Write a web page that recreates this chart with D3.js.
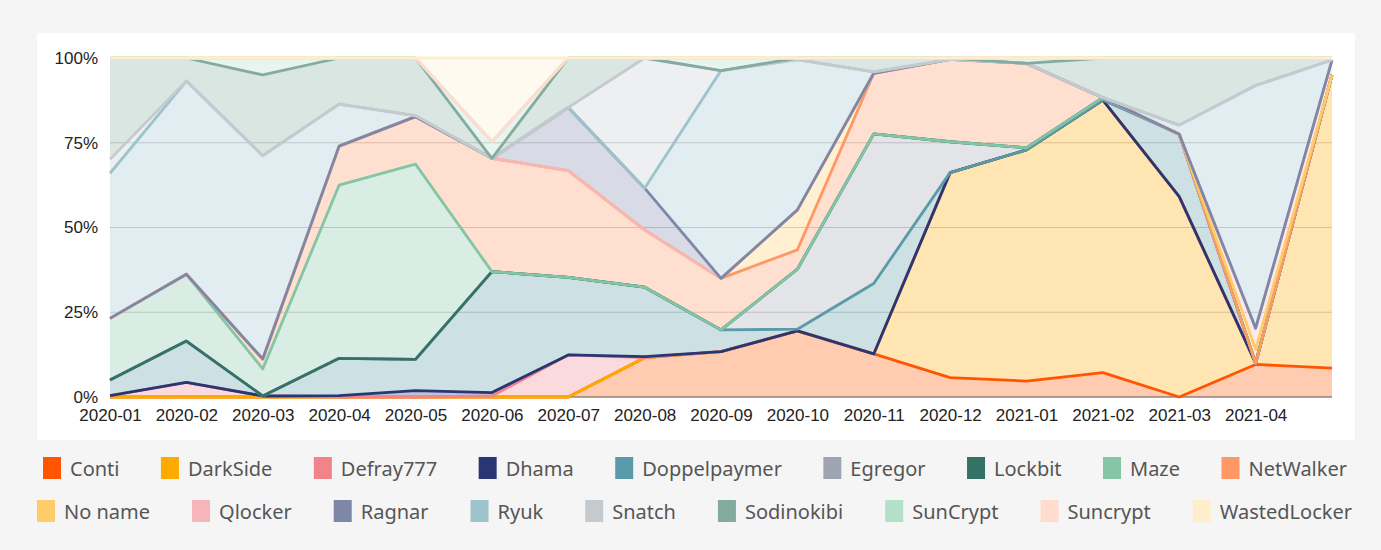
<!DOCTYPE html>
<html>
<head>
<meta charset="utf-8">
<script src="https://cdn.jsdelivr.net/npm/d3@7/dist/d3.min.js"></script>
<style>
  body { margin: 0; background: #f5f5f5; }
  svg { display: block; }
</style>
</head>
<body>
<svg id="chart" width="1381" height="550"></svg>
<script>
// months on the x axis (last one has no label in the original)
const months = ["2020-01","2020-02","2020-03","2020-04","2020-05","2020-06","2020-07","2020-08",
                "2020-09","2020-10","2020-11","2020-12","2021-01","2021-02","2021-03","2021-04","2021-05"];
const tickMonths = months.slice(0, 16);
const yTicks = [0, 0.25, 0.5, 0.75, 1];

const seriesNames = ["Conti","DarkSide","Defray777","Dhama","Doppelpaymer","Egregor","Lockbit","Maze","NetWalker",
                     "No name","Qlocker","Ragnar","Ryuk","Snatch","Sodinokibi","SunCrypt","Suncrypt","WastedLocker"];
const seriesColors = ["#ff5500","#ffaa00","#f0848a","#283673","#5b9aa8","#9ea5b0","#347265","#83c5a5","#ff9864",
                      "#ffcc6a","#f5b5b9","#7e87a8","#9dc3cc","#c5cacf","#84aba0","#b4dfc8","#ffdcce","#ffeecc"];

// share of attacks per month (%)
const conti        = [0, 0, 0, 0, 0, 0, 0, 11.6, 13.4, 19.5, 12.7, 5.7, 4.7, 7.2, 0, 9.6, 8.5];
const darkSide     = [0, 0, 0, 0, 0, 0, 0, 0, 0, 0, 0, 60.5, 68.2, 80.4, 59.1, 0.4, 86.5];
const defray777    = [0.4, 4.3, 0.3, 0, 0, 0.3, 12.4, 0, 0, 0, 0, 0, 0, 0, 0, 0, 0];
const dhama        = [0, 0, 0, 0.4, 1.9, 1.0, 0, 0.3, 0, 0, 0, 0, 0, 0, 0, 0, 0];
const doppelpaymer = [4.6, 12.2, 0, 11.0, 9.2, 35.7, 22.9, 20.5, 6.4, 0.5, 20.8, 0, 0, 0, 18.4, 0, 0];
const egregor      = [0, 0, 0, 0, 0, 0, 0, 0, 0, 17.7, 44.1, 9.1, 0.6, 0.7, 0, 0, 0];
const lockbit      = [0, 0, 0, 0, 0, 0, 0, 0, 0, 0, 0, 0, 0, 0, 0, 0, 0];
const maze         = [18.2, 19.7, 8.0, 51.1, 57.6, 0, 0, 0, 0, 0, 0, 0, 0, 0, 0, 0, 0];
const netWalker    = [0, 0, 2.9, 11.5, 14.0, 33.4, 31.5, 16.9, 15.2, 5.7, 17.9, 24.3, 24.9, 0, 0, 0, 0];
const noName       = [0, 0, 0, 0, 0, 0, 0, 0, 0, 11.8, 0, 0, 0, 0, 0, 4.0, 0];
const qlocker      = [0, 0, 0, 0, 0, 0, 0, 0, 0, 0, 0, 0, 0, 0, 0, 6.3, 4.4];
const ragnar       = [0, 0, 0, 0, 0, 0, 18.6, 12.3, 0, 0, 0, 0, 0, 0, 0, 0, 0];
const ryuk         = [42.8, 57.0, 60.0, 12.4, 0.3, 0, 0, 0, 61.3, 44.3, 0.4, 0, 0, 0, 2.7, 71.6, 0];
const snatch       = [4.1, 0, 0, 0, 0, 0, 0, 38.4, 0, 0, 0, 0, 0, 0, 0, 0, 0];
const sodinokibi   = [29.9, 6.8, 23.8, 13.6, 17.0, 0, 14.6, 0, 0, 0.5, 4.1, 0.4, 0, 11.7, 19.8, 8.1, 0.6];
const sunCrypt     = [0, 0, 5.0, 0, 0, 4.9, 0, 0, 3.7, 0, 0, 0, 1.6, 0, 0, 0, 0];
const suncrypt2    = [0, 0, 0, 0, 0, 0, 0, 0, 0, 0, 0, 0, 0, 0, 0, 0, 0];
const wastedLocker = [0, 0, 0, 0, 0, 24.7, 0, 0, 0, 0, 0, 0, 0, 0, 0, 0, 0];

const seriesValues = [conti, darkSide, defray777, dhama, doppelpaymer, egregor, lockbit, maze, netWalker,
                      noName, qlocker, ragnar, ryuk, snatch, sodinokibi, sunCrypt, suncrypt2, wastedLocker];

const rows = months.map(function(m, i) {
    const row = {month: m};
    seriesNames.forEach(function(name, s) { row[name] = seriesValues[s][i]; });
    return row;
});

const svg = d3.select("#chart");

// white card behind the plot
svg.append("rect")
    .attr("x", 37).attr("y", 33)
    .attr("width", 1318).attr("height", 407)
    .attr("fill", "#ffffff");

const x = d3.scalePoint().domain(months).range([110, 1332]);
const y = d3.scaleLinear().domain([0, 1]).range([397, 58]);

const stacked = d3.stack()
    .keys(seriesNames)
    .offset(d3.stackOffsetExpand)(rows);

// gridlines
svg.append("g")
    .selectAll("line")
    .data(yTicks.slice(1))
    .join("line")
    .attr("x1", 110).attr("x2", 1332)
    .attr("y1", d => y(d)).attr("y2", d => y(d))
    .attr("stroke", "#cccccc")
    .attr("stroke-width", 1);

const area = d3.area()
    .x(d => x(d.data.month))
    .y0(d => y(d[0]))
    .y1(d => y(d[1]));

const line = d3.line()
    .x(d => x(d.data.month))
    .y(d => y(d[1]));

svg.append("g")
    .selectAll("path")
    .data(stacked)
    .join("path")
    .attr("d", area)
    .attr("fill", (d, i) => seriesColors[i])
    .attr("fill-opacity", 0.3);

// baseline
svg.append("line")
    .attr("x1", 110).attr("x2", 1332)
    .attr("y1", y(0)).attr("y2", y(0))
    .attr("stroke", "#555")
    .attr("stroke-width", 1);

svg.append("g")
    .selectAll("path")
    .data(stacked)
    .join("path")
    .attr("d", line)
    .attr("fill", "none")
    .attr("stroke", (d, i) => seriesColors[i])
    .attr("stroke-width", 2.8)
    .attr("stroke-linejoin", "round");

// axes
const yAxis = svg.append("g")
    .attr("transform", "translate(110,0)")
    .call(d3.axisLeft(y).tickValues(yTicks).tickFormat(d3.format(".0%")).tickSize(0).tickPadding(12));
yAxis.select(".domain").remove();
yAxis.selectAll("text")
    .attr("font-family", "Liberation Sans, Arial, sans-serif")
    .attr("font-size", 17)
    .attr("fill", "#222");

const xAxis = svg.append("g")
    .attr("transform", "translate(0," + y(0) + ")")
    .call(d3.axisBottom(x).tickValues(tickMonths).tickSize(0).tickPadding(12));
xAxis.select(".domain").remove();
xAxis.selectAll("text")
    .attr("font-family", "Liberation Sans, Arial, sans-serif")
    .attr("font-size", 17)
    .attr("fill", "#222");

// legend, two centred rows
const legendRows = [seriesNames.slice(0, 9), seriesNames.slice(9)];
const rowTop = [457, 500];
const rowSpan = [[43, 1347], [37, 1352]];

legendRows.forEach(function(names, r) {
    const g = svg.append("g").attr("class", "legend");
    const items = names.map(function(name) {
        const idx = seriesNames.indexOf(name);
        const item = g.append("g");
        item.append("rect")
            .attr("width", 18).attr("height", 22)
            .attr("fill", seriesColors[idx]);
        const t = item.append("text")
            .attr("x", 27).attr("y", 19)
            .attr("font-family", "Noto Sans, sans-serif")
            .attr("font-size", 20)
            .attr("fill", "#555")
            .text(name);
        return {item: item, w: 27 + t.node().getComputedTextLength()};
    });
    const total = d3.sum(items, d => d.w);
    const gap = (rowSpan[r][1] - rowSpan[r][0] - total) / (items.length - 1);
    let cx = rowSpan[r][0];
    items.forEach(function(it) {
        it.item.attr("transform", "translate(" + cx + "," + rowTop[r] + ")");
        cx += it.w + gap;
    });
});
</script>
</body>
</html>
